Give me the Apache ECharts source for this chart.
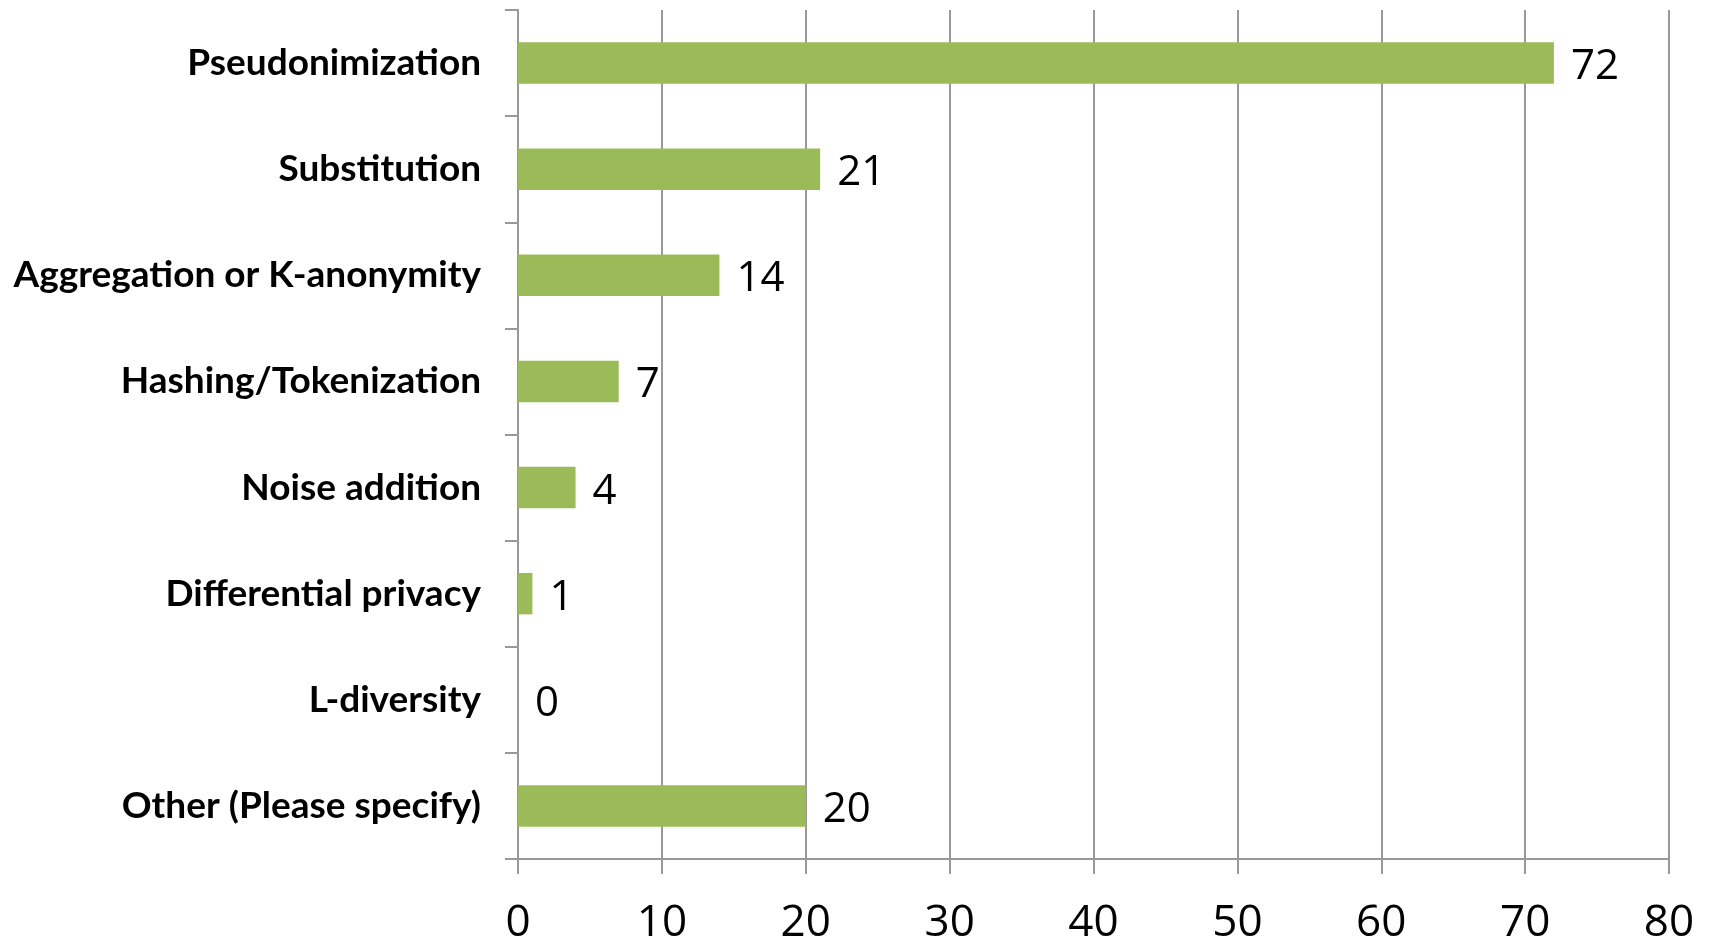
<!DOCTYPE html>
<html><head><meta charset="utf-8">
<script src="https://cdn.jsdelivr.net/npm/echarts@6/dist/echarts.min.js"></script>
<style>html,body{margin:0;padding:0;background:#fff}#c{width:1709px;height:945px}</style>
</head><body><div id="c"></div>
<script>
const categories = ["Pseudonimization","Substitution","Aggregation or K-anonymity","Hashing/Tokenization","Noise addition","Differential privacy","L-diversity","Other (Please specify)"];
const values = [72,21,14,7,4,1,0,20];
const xTicks = [0,10,20,30,40,50,60,70,80];

const chart = echarts.init(document.getElementById('c'));
chart.setOption({
  animation:false,
  grid:{left:518,right:40,top:10,bottom:81,containLabel:false},
  xAxis:{type:'value',min:xTicks[0],max:xTicks[xTicks.length-1],interval:10,
    axisLine:{show:true,lineStyle:{color:'#999',width:2}},
    axisTick:{show:true,length:15,lineStyle:{color:'#999',width:2}},
    splitLine:{show:true,lineStyle:{color:'#999',width:2}},
    axisLabel:{margin:42,fontSize:44,color:'#000',fontFamily:'Open Sans'}},
  yAxis:{type:'category',data:categories,inverse:true,
    axisLine:{show:true,lineStyle:{color:'#999',width:2}},
    axisTick:{show:true,length:13,lineStyle:{color:'#999',width:2}},
    axisLabel:{margin:37,fontSize:37,fontWeight:'bold',color:'#000',fontFamily:'Lato'}},
  series:[{type:'bar',data:values,barCategoryGap:'61%',
    itemStyle:{color:'#9BBB59'},
    label:{show:true,position:'right',distance:17,offset:[0,4],fontSize:42,color:'#000',fontFamily:'Open Sans'}}]
});
</script></body></html>
